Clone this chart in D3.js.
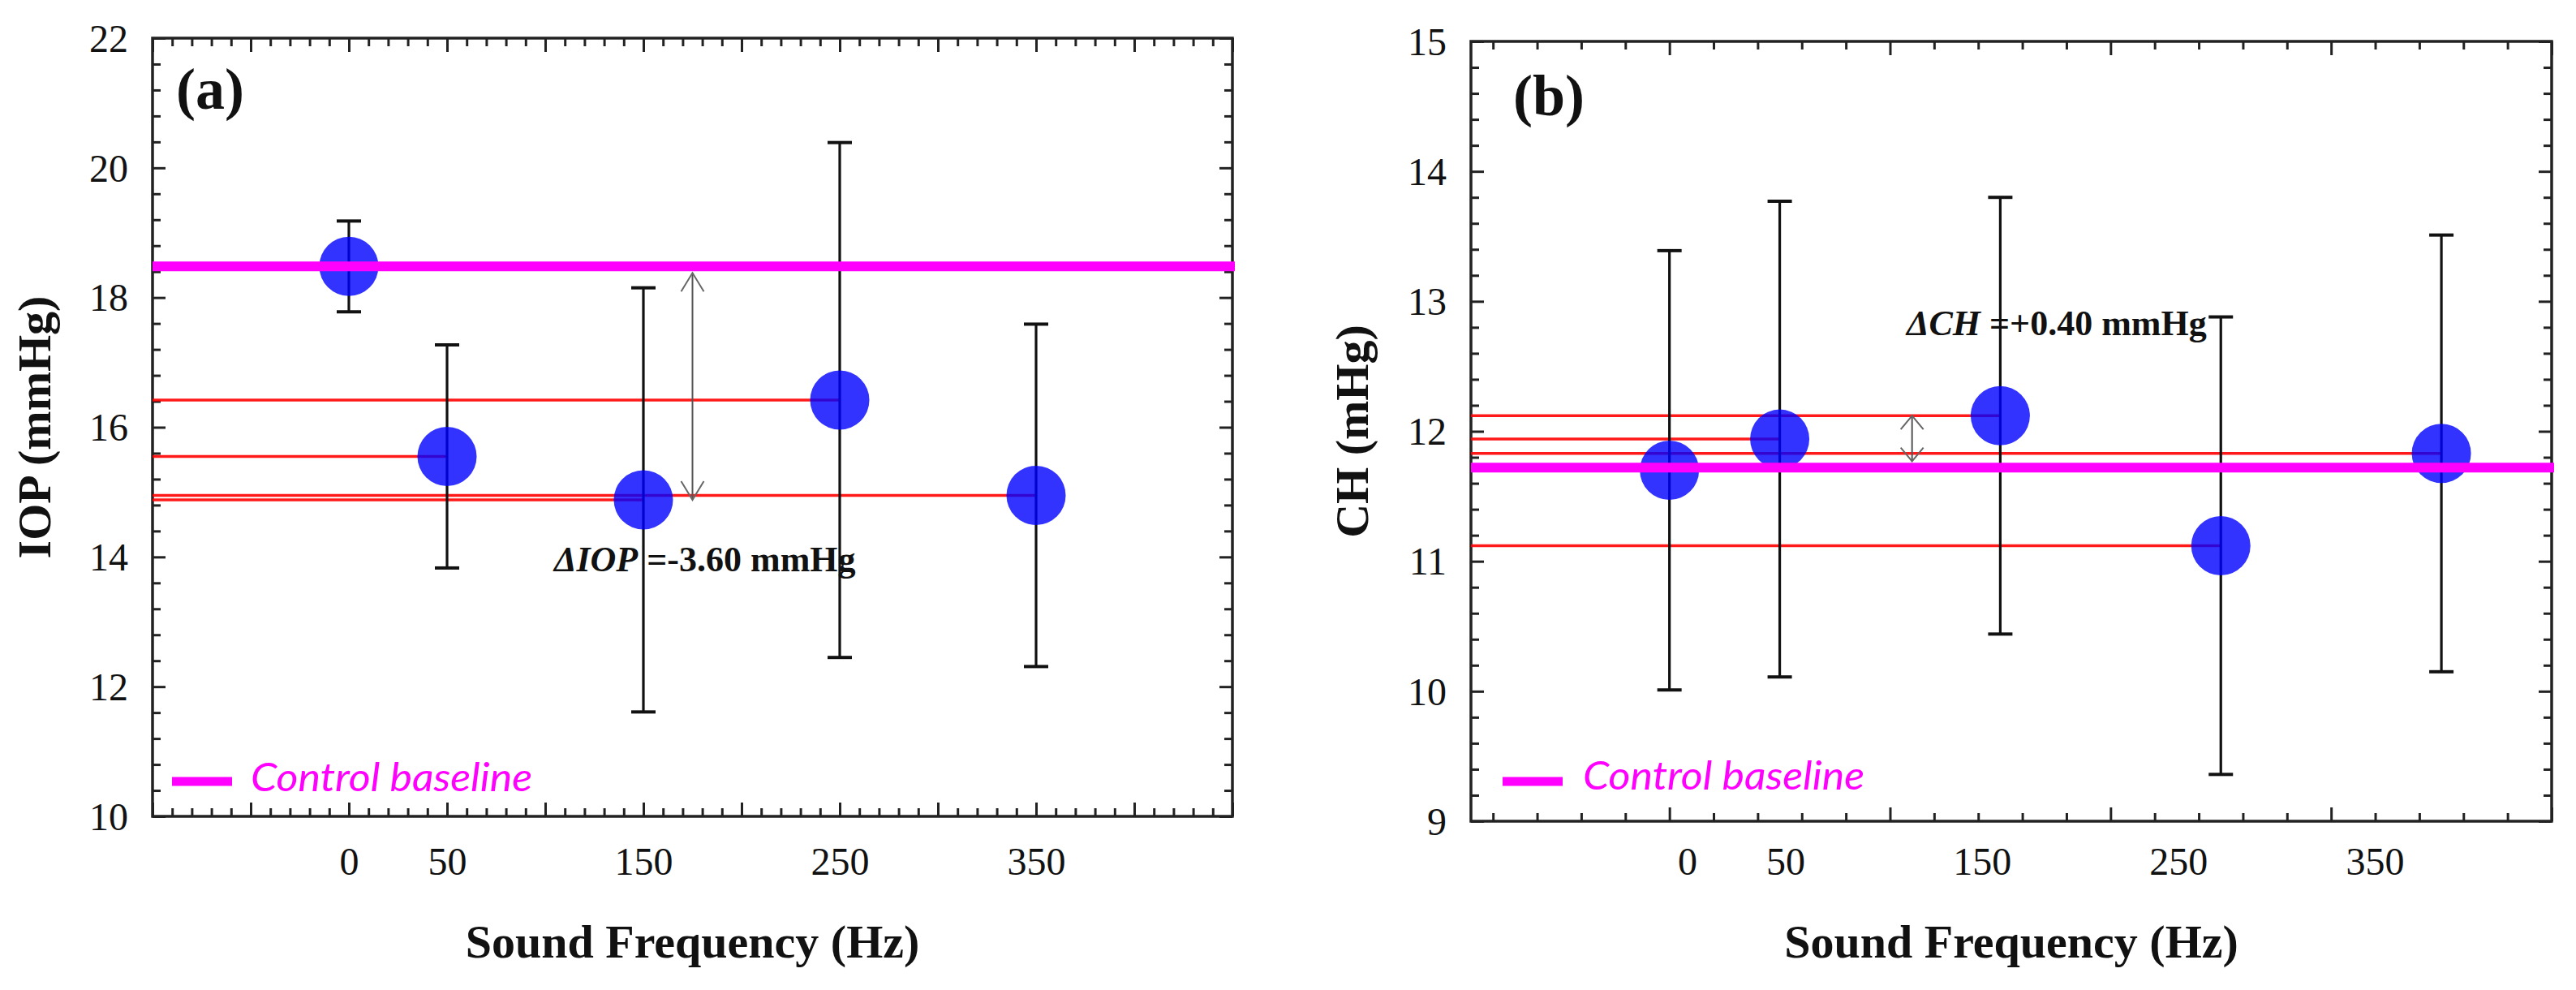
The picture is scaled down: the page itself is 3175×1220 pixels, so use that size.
<!DOCTYPE html>
<html>
<head>
<meta charset="utf-8">
<script src="https://cdn.jsdelivr.net/npm/d3@7"></script>
<style>
  body { margin: 0; background: #fff; }
  svg { display: block; }
</style>
</head>
<body>
<div id="chart"></div>
<script>
// values
var freqs = [0, 50, 150, 250, 350]
var freqTickLabels = [0, 50, 150, 250, 350]

var iopMean = [18.48, 15.55, 14.88, 16.42, 14.95]
var iopErr = [0.70, 1.72, 3.27, 3.97, 2.64]
var iopBaseline = 18.48
var iopDelta = -3.60
var iopTicks = [10, 12, 14, 16, 18, 20, 22]

var chMean = [11.70, 11.94, 12.12, 11.12, 11.83]
var chErr = [1.69, 1.83, 1.68, 1.76, 1.68]
var chBaseline = 11.72
var chDelta = 0.40
var chTicks = [9, 10, 11, 12, 13, 14, 15]

var W = 3175, H = 1220
var serif = "'Liberation Serif', 'Times New Roman', serif"

var svg = d3.select("#chart").append("svg")
    .attr("width", W)
    .attr("height", H)

function every(lo, hi, step) {
    var a = Math.ceil(lo / step - 1e-9), b = Math.floor(hi / step + 1e-9)
    return d3.range(a, b + 1).map(k => +(k * step).toFixed(6))
}

var panels = [
    {
        tag: "(a)", yTitle: "IOP (mmHg)", name: "IOP",
        mean: iopMean, err: iopErr, base: iopBaseline, delta: iopDelta, yTicks: iopTicks,
        left: 188, right: 1519, top: 47, bottom: 1006,
        xDomain: [-100, 450], labelDomain: [-100, 450], yDomain: [10, 22],
        xMajor: 50, xMinor: 10, yMinor: 0.4,
        tagPos: [217, 134], titleX: 62,
        legend: { x0: 212, x1: 286, y: 963, tx: 309, ty: 975 },
        arrowF: 175, textPos: [104.5, 13.78]
    },
    {
        tag: "(b)", yTitle: "CH (mHg)", name: "CH",
        mean: chMean, err: chErr, base: chBaseline, delta: chDelta, yTicks: chTicks,
        left: 1813, right: 3145, top: 51, bottom: 1012,
        xDomain: [-90, 400], labelDomain: [-110, 440], yDomain: [9, 15],
        xMajor: 100, xMinor: 20, yMinor: 0.2,
        tagPos: [1865, 142], titleX: 1686,
        legend: { x0: 1852, x1: 1926, y: 963, tx: 1951, ty: 973 },
        arrowF: 110, textPos: [107.5, 12.74]
    }
]

panels.forEach(drawPanel)

function drawPanel(p) {
    var x = d3.scaleLinear().domain(p.xDomain).range([p.left, p.right])
    var xl = d3.scaleLinear().domain(p.labelDomain).range([p.left, p.right])
    var y = d3.scaleLinear().domain(p.yDomain).range([p.bottom, p.top])
    var g = svg.append("g")

    var xMaj = every(p.xDomain[0], p.xDomain[1], p.xMajor)
    var xMin = every(p.xDomain[0], p.xDomain[1], p.xMinor).filter(v => xMaj.indexOf(v) < 0)
    var yMin = every(p.yDomain[0], p.yDomain[1], p.yMinor).filter(v => p.yTicks.indexOf(v) < 0)

    // inward ticks on all four sides
    function ticks(axis, tr) {
        g.append("g")
            .attr("transform", tr)
            .call(axis)
            .call(a => {
                a.select(".domain").remove()
                a.selectAll("line").attr("stroke", "#222").attr("stroke-width", 3)
                a.selectAll("text").remove()
            })
    }
    ticks(d3.axisBottom(x).tickValues(xMaj).tickSize(-17), "translate(0," + p.bottom + ")")
    ticks(d3.axisBottom(x).tickValues(xMin).tickSize(-10), "translate(0," + p.bottom + ")")
    ticks(d3.axisTop(x).tickValues(xMaj).tickSize(-17), "translate(0," + p.top + ")")
    ticks(d3.axisTop(x).tickValues(xMin).tickSize(-10), "translate(0," + p.top + ")")
    ticks(d3.axisLeft(y).tickValues(p.yTicks).tickSize(-16), "translate(" + p.left + ",0)")
    ticks(d3.axisLeft(y).tickValues(yMin).tickSize(-10), "translate(" + p.left + ",0)")
    ticks(d3.axisRight(y).tickValues(p.yTicks).tickSize(-16), "translate(" + p.right + ",0)")
    ticks(d3.axisRight(y).tickValues(yMin).tickSize(-10), "translate(" + p.right + ",0)")

    // tick labels
    g.append("g")
        .attr("transform", "translate(" + p.left + ",0)")
        .call(d3.axisLeft(y).tickValues(p.yTicks).tickFormat(d3.format("d")).tickSize(0).tickPadding(30))
        .call(a => {
            a.select(".domain").remove()
            a.selectAll("text")
                .attr("font-family", serif)
                .attr("font-size", 48)
                .attr("fill", "#111")
                .attr("dy", "0.34em")
        })
    g.append("g")
        .attr("transform", "translate(0," + p.bottom + ")")
        .call(d3.axisBottom(xl).tickValues(freqTickLabels).tickFormat(d3.format("d")).tickSize(0))
        .call(a => {
            a.select(".domain").remove()
            a.selectAll("text")
                .attr("font-family", serif)
                .attr("font-size", 48)
                .attr("fill", "#111")
                .attr("dy", 0)
                .attr("y", 1078 - p.bottom)
        })

    // frame
    g.append("rect")
        .attr("x", p.left).attr("y", p.top)
        .attr("width", p.right - p.left).attr("height", p.bottom - p.top)
        .attr("fill", "none")
        .attr("stroke", "#222")
        .attr("stroke-width", 3.5)

    var pts = freqs.map((f, i) => ({ f: f, m: p.mean[i], e: p.err[i] }))

    // red guides from the left frame to each point
    g.selectAll(".guide").data(pts).enter().append("line")
        .attr("x1", p.left).attr("x2", d => x(d.f))
        .attr("y1", d => y(d.m)).attr("y2", d => y(d.m))
        .attr("stroke", "#ff0000")
        .attr("stroke-opacity", 0.9)
        .attr("stroke-width", 3.5)

    // error bars
    var eb = g.selectAll(".eb").data(pts).enter().append("g")
    eb.append("line")
        .attr("x1", d => x(d.f)).attr("x2", d => x(d.f))
        .attr("y1", d => y(d.m + d.e)).attr("y2", d => y(d.m - d.e))
        .attr("stroke", "#111").attr("stroke-width", 3.2)
    eb.selectAll(".cap").data(d => [d.m + d.e, d.m - d.e].map(v => ({ f: d.f, v: v })))
        .enter().append("line")
        .attr("x1", d => x(d.f) - 15).attr("x2", d => x(d.f) + 15)
        .attr("y1", d => y(d.v)).attr("y2", d => y(d.v))
        .attr("stroke", "#111").attr("stroke-width", 4)

    // mean points
    g.selectAll(".pt").data(pts).enter().append("circle")
        .attr("cx", d => x(d.f))
        .attr("cy", d => y(d.m))
        .attr("r", 36.5)
        .attr("fill", "#0000ff")
        .attr("fill-opacity", 0.8)

    // control baseline
    g.append("line")
        .attr("x1", p.left).attr("x2", p.right + 3)
        .attr("y1", y(p.base)).attr("y2", y(p.base))
        .attr("stroke", "#ff00ff")
        .attr("stroke-width", 12)

    // double arrow showing the largest change
    var ax = x(p.arrowF), ya = y(p.base), yb = y(p.base + p.delta)
    var dir = yb > ya ? 1 : -1
    var ytop = ya + dir * 8, ybot = yb
    g.append("line")
        .attr("x1", ax).attr("x2", ax)
        .attr("y1", ytop).attr("y2", ybot)
        .attr("stroke", "#555").attr("stroke-width", 2)
    var hl = Math.min(23, Math.abs(ybot - ytop) * 0.3), hw = 14
    ;[[ytop, dir], [ybot, -dir]].forEach(h => {
        g.append("path")
            .attr("d", "M" + (ax - hw) + "," + (h[0] + h[1] * hl) + "L" + ax + "," + h[0] + "L" + (ax + hw) + "," + (h[0] + h[1] * hl))
            .attr("fill", "none")
            .attr("stroke", "#666")
            .attr("stroke-width", 2)
    })

    var dtxt = (p.delta > 0 ? "+" : "-") + Math.abs(p.delta).toFixed(2)
    var t = g.append("text")
        .attr("x", x(p.textPos[0]))
        .attr("y", y(p.textPos[1]))
        .attr("font-family", serif)
        .attr("font-size", 44)
        .attr("font-weight", "bold")
        .attr("fill", "#111")
    t.append("tspan").attr("font-style", "italic").text("\u0394" + p.name)
    t.append("tspan").text(" =" + dtxt + " mmHg")

    // panel tag
    g.append("text")
        .attr("x", p.tagPos[0]).attr("y", p.tagPos[1])
        .attr("font-family", serif)
        .attr("font-size", 72)
        .attr("font-weight", "bold")
        .attr("fill", "#111")
        .text(p.tag)

    // legend
    g.append("line")
        .attr("x1", p.legend.x0).attr("x2", p.legend.x1)
        .attr("y1", p.legend.y).attr("y2", p.legend.y)
        .attr("stroke", "#ff00ff").attr("stroke-width", 11)
    g.append("text")
        .attr("x", p.legend.tx).attr("y", p.legend.ty)
        .attr("font-family", "Lato, 'Open Sans', sans-serif")
        .attr("font-style", "italic")
        .attr("font-size", 48)
        .attr("textLength", 347)
        .attr("lengthAdjust", "spacingAndGlyphs")
        .attr("fill", "#ff00ff")
        .text("Control baseline")

    // axis titles
    g.append("text")
        .attr("x", (p.left + p.right) / 2)
        .attr("y", 1180)
        .attr("text-anchor", "middle")
        .attr("font-family", serif)
        .attr("font-size", 58)
        .attr("font-weight", "bold")
        .attr("fill", "#111")
        .text("Sound Frequency (Hz)")
    g.append("text")
        .attr("transform", "translate(" + p.titleX + "," + (p.top + p.bottom) / 2 + ") rotate(-90)")
        .attr("text-anchor", "middle")
        .attr("font-family", serif)
        .attr("font-size", 58)
        .attr("font-weight", "bold")
        .attr("fill", "#111")
        .text(p.yTitle)
}
</script>
</body>
</html>
